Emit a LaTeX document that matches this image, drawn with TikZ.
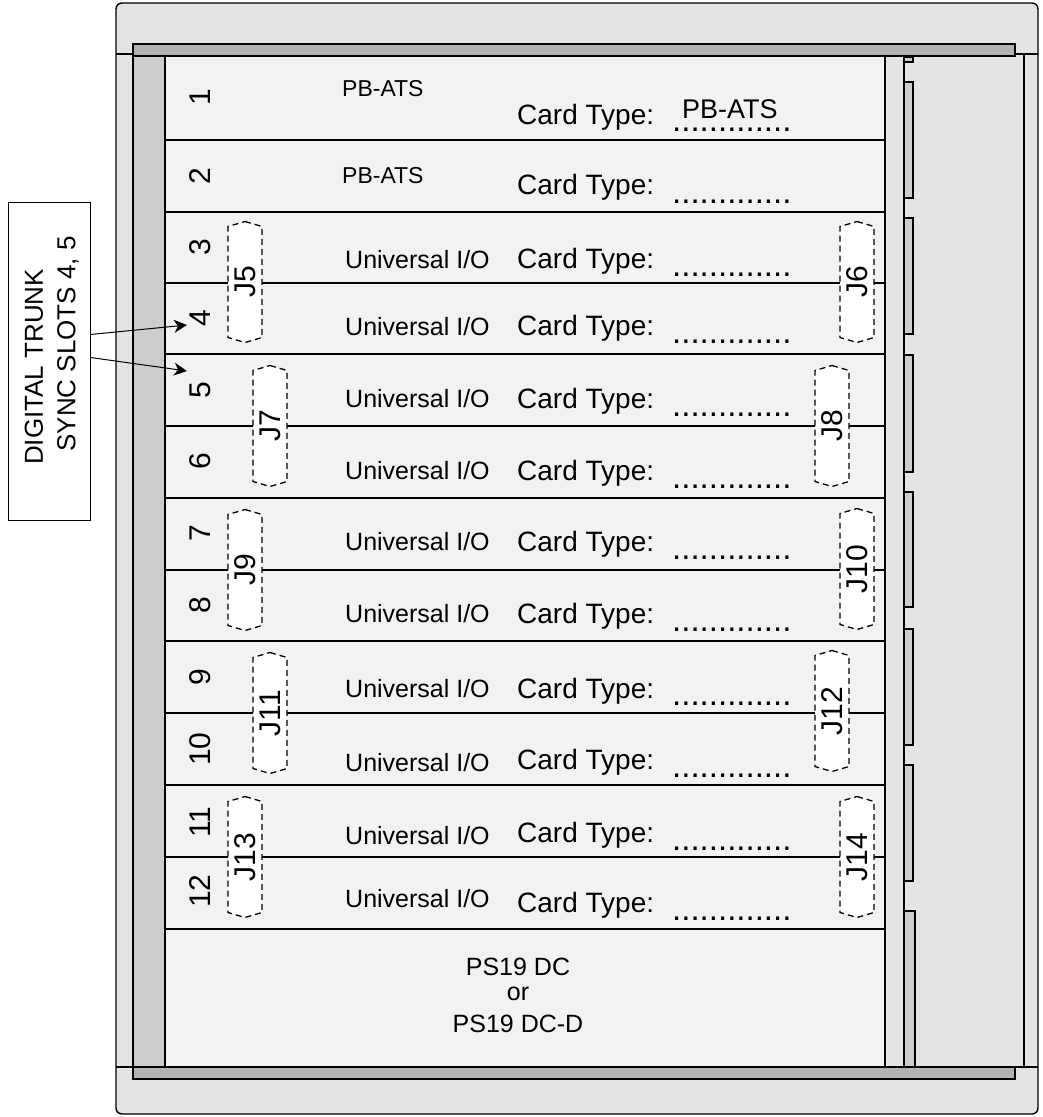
\documentclass[tikz,border=0pt]{standalone}
\usepackage{fontspec}
\setmainfont{Liberation Sans}
\usetikzlibrary{calc,arrows.meta}
\definecolor{frameg}{HTML}{E4E4E4}
\definecolor{barg}{HTML}{B3B3B3}
\definecolor{colg}{HTML}{CCCCCC}
\definecolor{cardg}{HTML}{F2F2F2}
\newcommand\jconn[4]{%
  \coordinate (#1c) at (#2,#3);
  \draw[jline] ($(#1c)+(0,-60.5)$) -- ($(#1c)+(17,-55.5)$) -- ($(#1c)+(17,55.5)$) -- ($(#1c)+(0,60.5)$) -- ($(#1c)+(-17,55.5)$) -- ($(#1c)+(-17,-55.5)$) -- cycle;
  \node[jtext] (#1) at (#1c) {#4};
}
\tikzset{
  outline/.style={draw=black, line width=1.4pt},
  divider/.style={draw=black, line width=1.6pt},
  jline/.style={draw=black, fill=white, line width=1.3pt, dash pattern=on 6pt off 4pt},
  jtext/.style={font=\fontsize{30}{30}\selectfont, rotate=90, inner sep=0pt},
  slotnum/.style={font=\fontsize{30}{30}\selectfont, rotate=90, inner sep=0pt},
  cardtype/.style={font=\fontsize{28}{30}\selectfont, anchor=base west, inner sep=0pt},
  dotfill/.style={font=\fontsize{33}{33}\selectfont, anchor=base west, inner sep=0pt},
  univ/.style={font=\fontsize{25}{27}\selectfont, anchor=base west, inner sep=0pt},
  pbats/.style={font=\fontsize{23}{25}\selectfont, anchor=base west, inner sep=0pt},
  written/.style={font=\fontsize{27}{28}\selectfont, anchor=base west, inner sep=0pt},
  pstext/.style={font=\fontsize{25}{27}\selectfont, anchor=base, inner sep=0pt},
  trunktext/.style={font=\fontsize{26}{28}\selectfont, rotate=90, inner sep=0pt},
  arr/.style={draw=black, line width=1pt, -{Stealth[length=13pt,width=13pt,inset=4pt]}},
}
\begin{document}
\begin{tikzpicture}[x=1pt,y=-1pt,line join=miter]
\fill[white] (0,0) rectangle (1042,1117);
\useasboundingbox (0,0) rectangle (1042,1117);

% outer frame
\draw[outline, fill=frameg, rounded corners=6pt] (116,3) rectangle (1038,1114);
\draw[outline] (116,54) -- (133,54);
\draw[outline] (1015,54) -- (1038,54);
\draw[outline] (116,1067) -- (133,1067);
\draw[outline] (1015,1067) -- (1038,1067);
\draw[outline] (133,54) -- (133,1067);
\draw[outline] (1024,54) -- (1024,1067);

% left gray column
\draw[outline, fill=colg] (133,56) rectangle (165,1067);

% card area
\draw[outline, fill=cardg] (165,56) rectangle (885,1067);
\draw[outline] (904,56) -- (904,1067);

% right tabs
\foreach \ta/\tb in {57/62,82/198,218/334,355/472,492/607,629/745,765/881}
  \draw[outline, fill=colg] (904,\ta) rectangle (913,\tb);
\draw[outline, fill=colg] (904,911) rectangle (915,1067);

% top and bottom bars
\draw[outline, fill=barg] (133,44) rectangle (1015,56);
\draw[outline, fill=barg] (133,1067) rectangle (1015,1079);

% slot dividers
\foreach \yy in {140,212,354,498,641,785,929}
  \draw[divider] (165,\yy) -- (885,\yy);
\foreach \yy in {283,426,570,713,857}
  \draw[divider] (165,\yy) -- (885,\yy);

% connectors
\jconn{j5}{245}{282}{J5}
\jconn{j6}{857}{282}{J6}
\jconn{j7}{270}{426}{J7}
\jconn{j8}{832}{426}{J8}
\jconn{j9}{245}{570}{J9}
\jconn{j10}{857}{569}{J10}
\jconn{j11}{270}{713}{J11}
\jconn{j12}{832}{711}{J12}
\jconn{j13}{245}{857}{J13}
\jconn{j14}{857}{857}{J14}

% slot numbers
\foreach \n/\yy in {1/97,2/176,3/247,4/318,5/390,6/461,7/533,8/605,9/677,10/749,11/822,12/891}
  \node[slotnum] (s\n) at (200,\yy) {\n};

% card type labels
\foreach \n/\yy in {1/124,2/194,3/268,4/335,5/408,6/480,7/551,8/623,9/698,10/769,11/842,12/912}
  \node[cardtype] (ct\n) at (517,\yy) {Card Type:};
\foreach \n/\yy in {1/131,2/203,3/276,4/343,5/416,6/488,7/559,8/631,9/705,10/777,11/850,12/920}
  \node[dotfill] (d\n) at (672,\yy) {.............};

% card names
\node[pbats] (n1) at (342,96) {PB-ATS};
\node[pbats] (n2) at (342,183) {PB-ATS};
\foreach \n/\yy in {3/268,4/335,5/407,6/479,7/550,8/622,9/697,10/771,11/844,12/907}
  \node[univ] (n\n) at (345,\yy) {Universal I/O};
\node[written] (w1) at (682,118) {PB-ATS};

% power supply
\node[pstext] (ps1) at (518,975) {PS19 DC};
\node[pstext] (ps2) at (518,1000) {or};
\node[pstext] (ps3) at (518,1032) {PS19 DC-D};

% digital trunk label
\node[draw=black, line width=1pt, fill=white, minimum width=82pt, minimum height=318pt, inner sep=0pt] (trunk) at (49,361) {};
\node[trunktext] (t1) at (34,367) {DIGITAL TRUNK};
\node[trunktext] (t2) at (68,344) {SYNC SLOTS 4, 5};
\coordinate (a4) at (187,325);
\coordinate (a5) at (187,371);
\draw[arr] ($(trunk.north east)+(0,133)$) -- (a4);
\draw[arr] ($(trunk.north east)+(0,156)$) -- (a5);
\end{tikzpicture}
\end{document}
